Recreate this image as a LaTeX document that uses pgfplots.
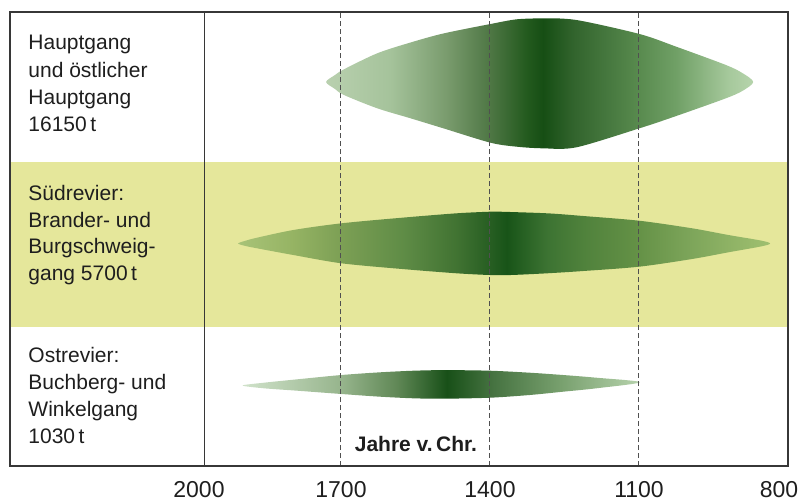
\documentclass[border=0pt]{standalone}
\usepackage{fontspec}
\setmainfont{Liberation Sans}
\usepackage{pgfplots}
\pgfplotsset{compat=1.18}

\definecolor{band}{RGB}{229,231,155}
\definecolor{framecol}{RGB}{55,55,55}
\definecolor{dashcol}{RGB}{80,80,80}
\definecolor{txt}{RGB}{30,30,30}

% shape 1 colours
\definecolor{a0}{RGB}{185,208,175}
\definecolor{a1}{RGB}{165,195,155}
\definecolor{a2}{RGB}{122,156,110}
\definecolor{a3}{RGB}{80,120,70}
\definecolor{a4}{RGB}{35,90,30}
\definecolor{a5}{RGB}{22,78,20}
\definecolor{a6}{RGB}{50,100,45}
\definecolor{a7}{RGB}{88,138,78}
\definecolor{a8}{RGB}{112,160,102}
\definecolor{a9}{RGB}{165,200,155}
\definecolor{a10}{RGB}{182,212,172}
% shape 2 colours
\definecolor{b0}{RGB}{168,195,120}
\definecolor{b1}{RGB}{150,180,100}
\definecolor{b2}{RGB}{125,160,85}
\definecolor{b3}{RGB}{95,140,70}
\definecolor{b4}{RGB}{65,115,50}
\definecolor{b5}{RGB}{40,95,35}
\definecolor{b6}{RGB}{24,84,24}
\definecolor{b7}{RGB}{60,115,50}
\definecolor{b8}{RGB}{80,130,60}
\definecolor{b9}{RGB}{100,145,70}
\definecolor{b10}{RGB}{125,165,90}
\definecolor{b11}{RGB}{160,192,112}
% shape 3 colours
\definecolor{c0}{RGB}{208,226,202}
\definecolor{c1}{RGB}{150,180,140}
\definecolor{c2}{RGB}{95,135,85}
\definecolor{c3}{RGB}{24,80,24}
\definecolor{c4}{RGB}{70,115,65}
\definecolor{c5}{RGB}{120,160,110}
\definecolor{c6}{RGB}{182,210,172}

\pgfdeclarehorizontalshading{shA}{100bp}{color(0bp)=(a0); color(25bp)=(a0); color(32.5bp)=(a1); color(39bp)=(a2); color(44bp)=(a3); color(48.5bp)=(a4); color(50.4bp)=(a5); color(54bp)=(a6); color(61.5bp)=(a7); color(66bp)=(a8); color(72bp)=(a9); color(75bp)=(a10); color(100bp)=(a10)}
\pgfdeclarehorizontalshading{shB}{100bp}{color(0bp)=(b0); color(25bp)=(b0); color(30bp)=(b1); color(34.5bp)=(b2); color(40.5bp)=(b3); color(45.5bp)=(b4); color(48.5bp)=(b5); color(50.25bp)=(b6); color(54bp)=(b7); color(57.5bp)=(b8); color(62.5bp)=(b9); color(67.5bp)=(b10); color(75bp)=(b11); color(100bp)=(b11)}
\pgfdeclarehorizontalshading{shC}{100bp}{color(0bp)=(c0); color(25bp)=(c0); color(37.5bp)=(c1); color(44.5bp)=(c2); color(50.7bp)=(c3); color(56.5bp)=(c4); color(65bp)=(c5); color(75bp)=(c6); color(100bp)=(c6)}

\begin{document}
\fontsize{10.5}{13.5}\selectfont
\begin{tikzpicture}
\begin{axis}[
  scale only axis, width=389pt, height=227pt,
  xmin=800, xmax=2366.4, x dir=reverse,
  ymin=0, ymax=454,
  axis line style={draw=framecol, line width=0.6pt},
  ytick=\empty,
  xtick={800,1100,1400,1700,2000},
  xticklabels={{\hspace*{-9pt}800},1100,1400,1700,{\hspace*{7pt}2000}},
  major tick length=0pt,
  xticklabel style={anchor=base, yshift=-15.5pt, font=\fontsize{11.5}{13}\selectfont, text=txt},
  no marks,
  axis on top,
  clip=false,
]
\fill[band] (axis cs:2366.4,139) rectangle (axis cs:800,304);

% Hauptgang und oestlicher Hauptgang
\addplot[draw=none, shading=shA, smooth] coordinates {
(1293,447.7) (1226,446) (1099,432) (1025,419.3) (925,401) (891,392.7) (870,384) (891,375.3) (925,367.7)
(1025,350) (1099,337.7) (1226,318.7) (1293,317.7) (1346,319.3) (1399,323.3) (1494,337.7) (1560,347.7)
(1627,357.7) (1694,371) (1712,377) (1730,384) (1712,391) (1694,396.7) (1627,412.7) (1560,423.5) (1494,432.5)
(1399,442) (1346,446.7) (1293,447.7)};

% Suedrevier
\addplot[draw=none, shading=shB, smooth] coordinates {
(1380,254.3) (1285,252.7) (1212,250) (1100,245.3) (993,237.7) (920,231) (855,225.5) (836,222.5) (855,219.5)
(920,213.7) (993,207) (1100,199.3) (1212,195) (1285,192.7) (1358,191) (1400,191) (1467,192.7) (1577,197)
(1699,202.7) (1796,211) (1869,217.7) (1892,220) (1907,222.5) (1892,225.3) (1869,228.3) (1796,236)
(1699,242.7) (1577,248.3) (1467,252.7) (1400,254.3) (1380,254.3)};

% Ostrevier
\addplot[draw=none, shading=shC, smooth] coordinates {
(1494,96) (1400,95.3) (1320,93.3) (1253,91) (1186,88.3) (1098,83.8) (1186,77.7) (1253,74.3) (1320,71)
(1400,68.3) (1494,67.3) (1554,67.7) (1621,69.3) (1699,72) (1788,75.3) (1855,77.7) (1898,80.5) (1855,83.3)
(1788,86.7) (1699,91) (1621,93.7) (1554,95.3) (1494,96)};

\draw[dashcol, dash pattern=on 2.5pt off 1.5pt, line width=0.5pt] (axis cs:1700,0) -- (axis cs:1700,454);
\draw[dashcol, dash pattern=on 2.5pt off 1.5pt, line width=0.5pt] (axis cs:1400,0) -- (axis cs:1400,454);
\draw[dashcol, dash pattern=on 2.5pt off 1.5pt, line width=0.5pt] (axis cs:1100,0) -- (axis cs:1100,454);
\draw[framecol, line width=0.6pt] (axis cs:1974,0) -- (axis cs:1974,454);

\begin{scope}[every node/.style={anchor=base west, inner sep=0pt, text=txt, font=\fontsize{10.5}{13.5}\selectfont}]
\node at (axis cs:2330,416) {Hauptgang};
\node at (axis cs:2330,389) {und östlicher};
\node at (axis cs:2330,362) {Hauptgang};
\node at (axis cs:2330,335) {16150\,t};
\node at (axis cs:2330,266) {Südrevier:};
\node at (axis cs:2330,239) {Brander- und};
\node at (axis cs:2330,213) {Burgschweig-};
\node at (axis cs:2330,186) {gang 5700\,t};
\node at (axis cs:2330,104) {Ostrevier:};
\node at (axis cs:2330,77) {Buchberg- und};
\node at (axis cs:2330,50) {Winkelgang};
\node at (axis cs:2330,23) {1030\,t};
\end{scope}
\node[anchor=base, inner sep=0pt, text=txt, font=\fontsize{10.5}{13.5}\selectfont\bfseries] at (axis cs:1549,14.3) {Jahre v.\,Chr.};

\coordinate (bl) at (axis cs:2366.4,0);
\coordinate (tr) at (axis cs:800,454);
\end{axis}
\pgfresetboundingbox
\path[use as bounding box] ([shift={(-5pt,-16.5pt)}]bl) rectangle ([shift={(6.5pt,6pt)}]tr);
\end{tikzpicture}
\end{document}
